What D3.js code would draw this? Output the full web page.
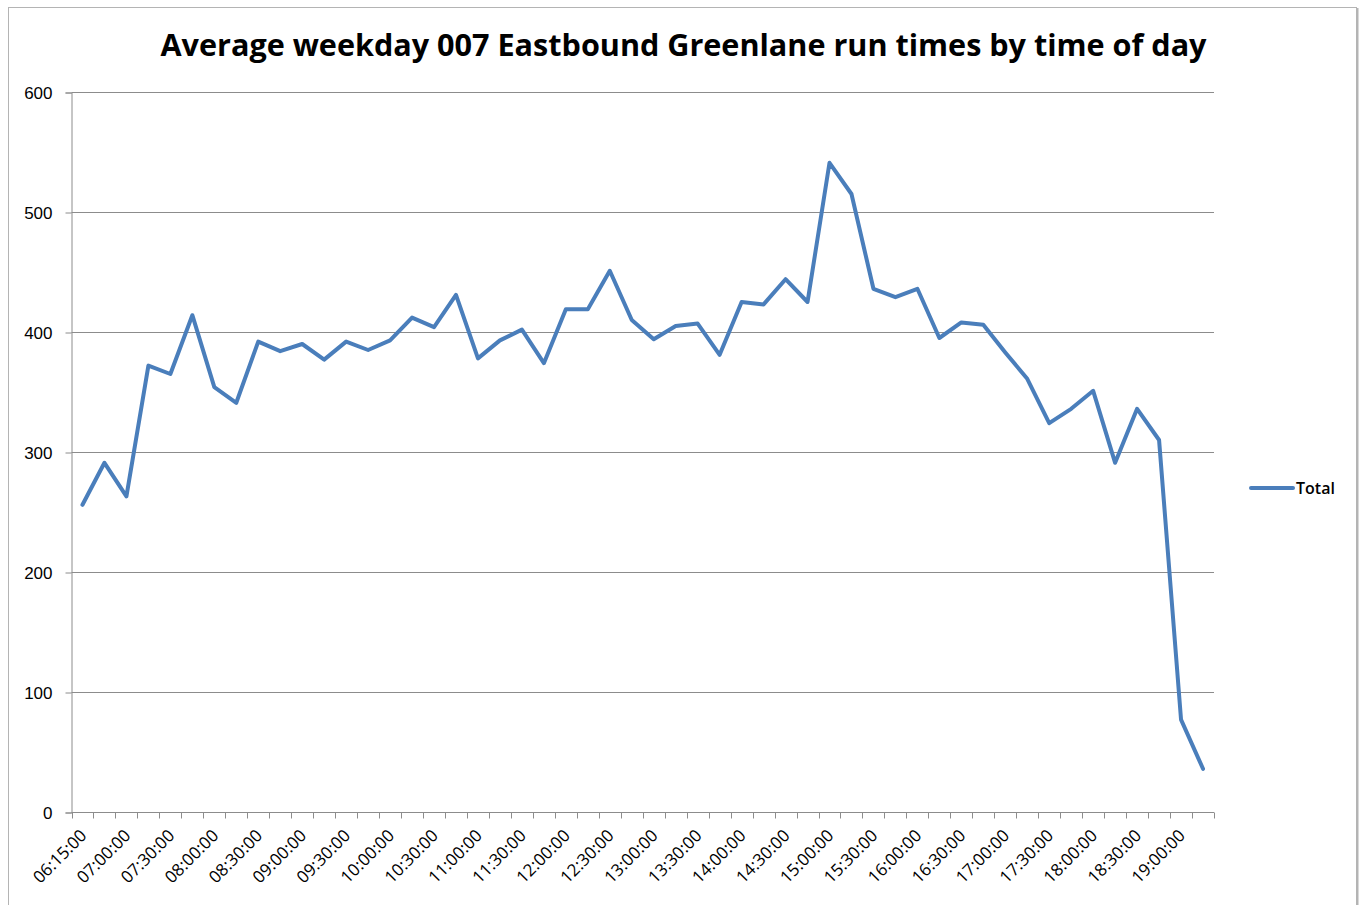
<!DOCTYPE html>
<html>
<head>
<meta charset="utf-8">
<script src="https://cdn.jsdelivr.net/npm/d3@7"></script>
<style>
body { margin: 0; background: #fff; }
svg { display: block; font-family: "Open Sans", sans-serif; }
.grid line { stroke: #8c8c8c; stroke-width: 1; }
.axis path, .axis line { stroke: #8c8c8c; stroke-width: 1; }
.axis text { fill: #000; font-size: 17px; }
</style>
</head>
<body>
<svg id="chart"></svg>
<script>
var width = 1360;
var height = 905;

var chartTitle = "Average weekday 007 Eastbound Greenlane run times by time of day";
var seriesName = "Total";

// time slots (15 min), labelled every other one
var times = ["06:15:00","06:45:00","07:00:00","07:15:00","07:30:00","07:45:00",
	"08:00:00","08:15:00","08:30:00","08:45:00","09:00:00","09:15:00",
	"09:30:00","09:45:00","10:00:00","10:15:00","10:30:00","10:45:00",
	"11:00:00","11:15:00","11:30:00","11:45:00","12:00:00","12:15:00",
	"12:30:00","12:45:00","13:00:00","13:15:00","13:30:00","13:45:00",
	"14:00:00","14:15:00","14:30:00","14:45:00","15:00:00","15:15:00",
	"15:30:00","15:45:00","16:00:00","16:15:00","16:30:00","16:45:00",
	"17:00:00","17:15:00","17:30:00","17:45:00","18:00:00","18:15:00",
	"18:30:00","18:45:00","19:00:00","19:15:00"];

var runTimes = [256, 291, 263, 372, 365, 414, 354, 341, 392, 384, 390, 377,
	392, 385, 393, 412, 404, 431, 378, 393, 402, 374, 419, 419,
	451, 410, 394, 405, 407, 381, 425, 423, 444, 425, 541, 515,
	436, 429, 436, 395, 408, 406, 383, 361, 324, 336, 351, 291,
	336, 310, 77, 36];

var yTicks = [0, 100, 200, 300, 400, 500, 600];

var plotLeft = 71.5, plotRight = 1214, plotTop = 92, plotBottom = 812;

var svg = d3.select("#chart")
	.attr("width", width)
	.attr("height", height);

// outer frame
svg.append("rect")
	.attr("x", 8.5)
	.attr("y", 7.5)
	.attr("width", 1348)
	.attr("height", 910)
	.attr("fill", "none")
	.attr("stroke", "#b4b4b4")
	.attr("stroke-width", 1);
svg.append("line")
	.attr("x1", 1357.5).attr("x2", 1357.5)
	.attr("y1", 8).attr("y2", height)
	.attr("stroke", "#b4b4b4")
	.attr("stroke-width", 2);

svg.append("text")
	.attr("x", 683.5)
	.attr("y", 56)
	.attr("text-anchor", "middle")
	.attr("font-size", 30)
	.attr("font-weight", "bold")
	.attr("textLength", 1046)
	.attr("lengthAdjust", "spacingAndGlyphs")
	.text(chartTitle);

var x = d3.scaleBand()
	.domain(times)
	.range([plotLeft, plotRight]);

var y = d3.scaleLinear()
	.domain([0, 600])
	.range([plotBottom, plotTop]);

// gridlines
svg.append("g")
	.attr("class", "grid")
	.selectAll("line")
	.data(yTicks.filter(function(d) { return d > 0; }))
	.join("line")
	.attr("x1", plotLeft)
	.attr("x2", plotRight)
	.attr("y1", function(d) { return Math.round(y(d)) + 0.5; })
	.attr("y2", function(d) { return Math.round(y(d)) + 0.5; });

// y axis
var yAxis = svg.append("g")
	.attr("class", "axis")
	.attr("transform", "translate(" + [plotLeft, 0.5] + ")")
	.call(d3.axisLeft(y).tickValues(yTicks).tickSize(6).tickPadding(13));
yAxis.selectAll("text").attr("dy", "0.35em");

// x axis: ticks on category boundaries
var xAxis = svg.append("g")
	.attr("class", "axis")
	.attr("transform", "translate(" + [0, plotBottom + 0.5] + ")");
xAxis.append("line")
	.attr("x1", plotLeft)
	.attr("x2", plotRight);
xAxis.selectAll("line.tick")
	.data(times.concat(["end"]))
	.join("line")
	.attr("class", "tick")
	.attr("x1", function(d, i) { return Math.round(plotLeft + i * x.step()) + 0.5; })
	.attr("x2", function(d, i) { return Math.round(plotLeft + i * x.step()) + 0.5; })
	.attr("y1", 0)
	.attr("y2", 6);
xAxis.selectAll("text")
	.data(times.filter(function(d, i) { return i % 2 === 0; }))
	.join("text")
	.attr("text-anchor", "end")
	.attr("font-size", 18)
	.attr("transform", function(d) {
		return "translate(" + [x(d) + x.bandwidth() / 2 + 1, 20] + ") rotate(-45)";
	})
	.attr("dy", "0.35em")
	.text(function(d) { return d; });

// series line
var line = d3.line()
	.x(function(d, i) { return x(times[i]) + x.bandwidth() / 2; })
	.y(function(d) { return y(d); });

svg.append("path")
	.datum(runTimes)
	.attr("fill", "none")
	.attr("stroke", "#4a7ebb")
	.attr("stroke-width", 4)
	.attr("stroke-linejoin", "round")
	.attr("stroke-linecap", "round")
	.attr("d", line);

// legend
var gLegend = svg.append("g")
	.attr("transform", "translate(" + [1251, 488] + ")");
gLegend.append("line")
	.attr("x1", 0)
	.attr("x2", 42)
	.attr("stroke", "#4a7ebb")
	.attr("stroke-width", 4)
	.attr("stroke-linecap", "round");
gLegend.append("text")
	.attr("x", 45)
	.attr("dy", "0.35em")
	.attr("font-size", 16)
	.attr("font-weight", 600)
	.attr("fill", "#000")
	.text(seriesName);
</script>
</body>
</html>
